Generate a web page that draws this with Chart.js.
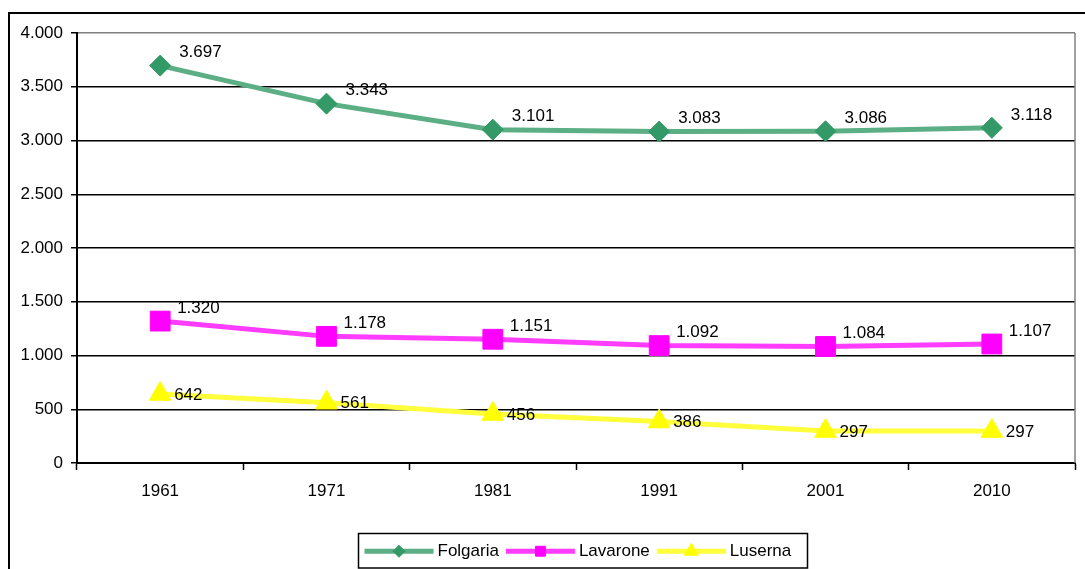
<!DOCTYPE html>
<html>
<head>
<meta charset="utf-8">
<script src="https://cdn.jsdelivr.net/npm/chart.js@4"></script>
<style>
  html, body { margin: 0; padding: 0; background: #fff; }
  #wrap { width: 1085px; height: 569px; position: relative; }
</style>
</head>
<body>
<div id="wrap"><canvas id="c" width="1085" height="569"></canvas></div>
<script>
// Resident population of the three plateau municipalities, by census year
const years = ['1961', '1971', '1981', '1991', '2001', '2010'];
const folgaria = [3697, 3343, 3101, 3083, 3086, 3118];
const lavarone = [1320, 1178, 1151, 1092, 1084, 1107];
const luserna  = [642, 561, 456, 386, 297, 297];
const seriesNames = ['Folgaria', 'Lavarone', 'Luserna'];
const yTicks = [0, 500, 1000, 1500, 2000, 2500, 3000, 3500, 4000];

const FONT = "'Liberation Sans', Arial, sans-serif";
const FS = 17;

// Thousands separator with a dot, e.g. 3697 -> "3.697"
function fmt(v) {
  return String(Math.round(v)).replace(/\B(?=(\d{3})+(?!\d))/g, '.');
}

// Outer frame plus the grey right edge of the plot area
const framePlugin = {
  id: 'frame',
  beforeDraw(chart) {
    const ctx = chart.ctx;
    ctx.save();
    ctx.fillStyle = '#fff';
    ctx.fillRect(0, 0, chart.width, chart.height);
    ctx.strokeStyle = '#000';
    ctx.lineWidth = 2;
    ctx.beginPath();
    ctx.moveTo(9, chart.height + 5);
    ctx.lineTo(9, 13);
    ctx.lineTo(chart.width + 5, 13);
    ctx.stroke();
    ctx.restore();
  },
  beforeDatasetsDraw(chart) {
    const a = chart.chartArea, ctx = chart.ctx;
    ctx.save();
    ctx.strokeStyle = '#808080';
    ctx.lineWidth = 1.5;
    ctx.beginPath();
    ctx.moveTo(a.right, a.top);
    ctx.lineTo(a.right, a.bottom);
    ctx.stroke();
    ctx.restore();
  }
};

// Value labels next to each point
const valueLabels = {
  id: 'valueLabels',
  afterDatasetsDraw(chart, args, opts) {
    const ctx = chart.ctx;
    ctx.save();
    ctx.font = FS + 'px ' + FONT;
    ctx.fillStyle = '#000';
    ctx.textAlign = 'left';
    ctx.textBaseline = 'middle';
    chart.data.datasets.forEach((ds, i) => {
      const meta = chart.getDatasetMeta(i);
      const off = opts.offsets[i];
      meta.data.forEach((pt, j) => {
        ctx.fillText(fmt(ds.data[j]), pt.x + off[0], pt.y + off[1]);
      });
    });
    ctx.restore();
  }
};

// Boxed legend along the bottom with line-and-marker samples
const boxLegend = {
  id: 'boxLegend',
  afterDraw(chart, args, opts) {
    const ctx = chart.ctx;
    const left = opts.left, top = opts.top, right = opts.right, bottom = opts.bottom;
    const cy = (top + bottom) / 2 + 0.5;
    ctx.save();
    ctx.fillStyle = '#fff';
    ctx.fillRect(left, top, right - left, bottom - top);
    ctx.strokeStyle = '#000';
    ctx.lineWidth = 1.5;
    ctx.strokeRect(left, top, right - left, bottom - top);
    ctx.font = FS + 'px ' + FONT;
    ctx.textBaseline = 'middle';
    ctx.textAlign = 'left';
    let x = left + 6;
    chart.data.datasets.forEach((ds, i) => {
      const w = 69;
      ctx.strokeStyle = ds.borderColor;
      ctx.lineWidth = 5;
      ctx.beginPath();
      ctx.moveTo(x, cy);
      ctx.lineTo(x + w, cy);
      ctx.stroke();
      ctx.fillStyle = ds.pointBackgroundColor;
      ctx.strokeStyle = ds.pointBorderColor;
      ctx.lineWidth = 1;
      Chart.helpers.drawPoint(ctx, {
        pointStyle: ds.pointStyle,
        radius: opts.markerRadius[i],
        rotation: 0,
        borderWidth: 1
      }, x + w / 2, cy);
      ctx.fillStyle = '#000';
      const tx = x + w + 4;
      ctx.fillText(ds.label, tx, cy);
      x = tx + ctx.measureText(ds.label).width + 7;
    });
    ctx.restore();
  }
};

const datasets = [
  {
    label: seriesNames[0], data: folgaria,
    borderColor: '#5cae84', borderWidth: 5,
    pointStyle: 'rectRot', pointRadius: 10.5, pointHoverRadius: 10.5,
    pointBackgroundColor: '#339966', pointBorderColor: '#339966', pointBorderWidth: 1
  },
  {
    label: seriesNames[1], data: lavarone,
    borderColor: '#ff3cff', borderWidth: 5,
    pointStyle: 'rect', pointRadius: 14, pointHoverRadius: 14,
    pointBackgroundColor: '#ff00ff', pointBorderColor: '#ff00ff', pointBorderWidth: 1
  },
  {
    label: seriesNames[2], data: luserna,
    borderColor: '#ffff3c', borderWidth: 5,
    pointStyle: 'triangle', pointRadius: 12.5, pointHoverRadius: 12.5,
    pointBackgroundColor: '#ffff00', pointBorderColor: '#ffff00', pointBorderWidth: 1
  }
];

new Chart(document.getElementById('c'), {
  type: 'line',
  data: { labels: years, datasets: datasets },
  plugins: [framePlugin, valueLabels, boxLegend],
  options: {
    responsive: false,
    animation: false,
    events: [],
    layout: { autoPadding: false, padding: { top: 33, right: 10, left: 0, bottom: 0 } },
    elements: { line: { tension: 0 } },
    scales: {
      x: {
        offset: true,
        afterFit(s) { s.height = 106; s.paddingRight = 0; s.paddingLeft = 0; },
        grid: {
          offset: true, drawOnChartArea: false, drawTicks: true,
          tickLength: 7, color: '#000', tickWidth: 1.5
        },
        border: { display: true, color: '#000', width: 2 },
        ticks: { color: '#000', font: { family: FONT, size: FS }, padding: 11, maxRotation: 0 }
      },
      y: {
        min: 0, max: 4000,
        afterFit(s) { s.width = 77; s.paddingTop = 0; s.paddingBottom = 0; },
        afterBuildTicks(s) { s.ticks = yTicks.map(v => ({ value: v })); },
        grid: {
          color: (c) => (c.tick && c.tick.value === 4000 ? '#808080' : '#000'),
          tickColor: '#000', lineWidth: 1.5, tickLength: 6, drawTicks: true
        },
        border: { display: true, color: '#000', width: 2 },
        ticks: {
          color: '#000', font: { family: FONT, size: FS }, padding: 8,
          callback: (v) => fmt(v)
        }
      }
    },
    plugins: {
      legend: { display: false },
      tooltip: { enabled: false },
      valueLabels: { offsets: [[19, -13], [17, -13], [14, 1]] },
      boxLegend: { left: 358.5, top: 533.5, right: 807.5, bottom: 568, markerRadius: [6, 7, 8] }
    }
  }
});
</script>
</body>
</html>
